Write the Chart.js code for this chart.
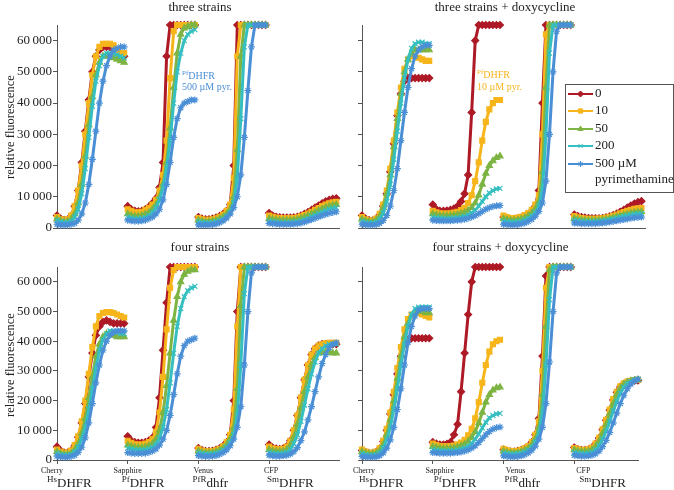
<!DOCTYPE html>
<html>
<head>
<meta charset="utf-8">
<script src="https://cdn.jsdelivr.net/npm/chart.js@4.4.1/dist/chart.umd.min.js"></script>
<style>
  body { margin: 0; background: #fff; }
  .panel { position: absolute; }
</style>
</head>
<body>
<canvas id="c1" class="panel" style="left:0;top:0" width="345" height="240"></canvas>
<canvas id="c2" class="panel" style="left:337px;top:0" width="337" height="240"></canvas>
<canvas id="c3" class="panel" style="left:0;top:240px" width="345" height="250"></canvas>
<canvas id="c4" class="panel" style="left:337px;top:240px" width="337" height="250"></canvas>
<script>
// time points inside one strain block (fraction of the block)
const timePoints = [0, 0.05, 0.1, 0.15, 0.2, 0.25, 0.3, 0.35, 0.4, 0.45, 0.5, 0.55, 0.6, 0.65, 0.7, 0.75, 0.8, 0.85, 0.9, 0.95];
const groupNames = ['Cherry', 'Sapphire', 'Venus', 'CFP'];
const geneSup = ['Hs', 'Pf', 'PfR', 'Sm'];
const geneMain = ['DHFR', 'DHFR', 'dhfr', 'DHFR'];
const concLabels = ['0', '10', '50', '200', '500 µM'];

// relative fluorescence (x1000), one row per strain block: Cherry, Sapphire, Venus, CFP
// three strains
const ts0 = [
  [4, 3, 2.5, 2.6, 3.8, 7, 12, 21, 31, 41, 50, 55, 57, 58, 58, 58, 57, 56, 55, 55],
  [7, 6, 5.5, 5.3, 5.5, 6, 6.8, 8, 9.5, 13, 21, 55, 65, 65, 65, 65, 65, 65, 65, 65],
  [3.5, 3, 2.8, 2.8, 3, 3.3, 3.8, 4.5, 5.5, 7.5, 20, 65, 65, 65, 65, 65, 65, 65, 65, 65],
  [4.8, 4, 3.6, 3.4, 3.3, 3.3, 3.3, 3.4, 3.6, 4, 4.5, 5.1, 5.8, 6.5, 7.2, 7.9, 8.5, 9, 9.3, 9.5]
];
const ts10 = [
  [3.5, 2.8, 2.5, 2.8, 4, 7, 12, 20, 30, 40, 49, 55, 58, 59, 59, 59, 58.5, 57, 56, 56],
  [6, 5.5, 5, 5, 5.2, 5.8, 6.5, 7.5, 9, 12, 17, 28, 48, 63, 65, 65, 65, 65, 65, 65],
  [3.2, 2.8, 2.6, 2.6, 2.8, 3.1, 3.6, 4.3, 5.5, 7.5, 16, 55, 65, 65, 65, 65, 65, 65, 65, 65],
  [4, 3.6, 3.3, 3.2, 3.1, 3.1, 3.1, 3.2, 3.4, 3.7, 4.1, 4.6, 5.2, 5.8, 6.4, 7, 7.5, 7.9, 8.2, 8.4]
];
const ts50 = [
  [2.8, 2.3, 2, 2.1, 2.8, 4.5, 8, 14, 23, 33, 42, 49, 53, 55, 55, 55, 54.5, 54, 53.5, 53],
  [4.5, 4, 3.8, 3.8, 4, 4.5, 5, 6, 7.5, 10, 14, 21, 32, 45, 56, 62, 64, 64.5, 65, 65],
  [2.5, 2.2, 2, 2, 2.2, 2.5, 3, 3.6, 4.5, 6, 10, 25, 55, 65, 65, 65, 65, 65, 65, 65],
  [3, 2.8, 2.6, 2.5, 2.5, 2.5, 2.5, 2.6, 2.8, 3.1, 3.5, 4, 4.5, 5, 5.6, 6.1, 6.6, 7, 7.3, 7.5]
];
const ts200 = [
  [2.5, 2, 1.8, 1.8, 2.2, 3.5, 6, 11, 19, 29, 39, 47, 52, 55, 56, 56, 56, 55.5, 55, 54.5],
  [3.5, 3.2, 3, 3, 3.1, 3.4, 4, 5, 6.5, 9, 13, 19, 28, 40, 50, 56, 60, 62, 63, 63.5],
  [2, 1.8, 1.7, 1.7, 1.8, 2, 2.4, 3, 3.8, 5, 8, 16, 35, 58, 65, 65, 65, 65, 65, 65],
  [2.2, 2, 1.9, 1.8, 1.8, 1.8, 1.8, 1.9, 2, 2.3, 2.7, 3.1, 3.6, 4.1, 4.6, 5.1, 5.6, 6, 6.3, 6.5]
];
const ts500 = [
  [1.2, 1, 1, 1, 1.2, 1.5, 2.5, 4.5, 8, 14, 22, 31, 40, 47, 52, 55, 57, 57.5, 58, 58],
  [2.5, 2.3, 2.2, 2.2, 2.3, 2.5, 3, 3.5, 4.5, 6, 9, 14, 21, 29, 35, 38.5, 40, 40.5, 41, 41],
  [1, 1, 1, 1, 1.1, 1.3, 1.7, 2.3, 3.2, 4.5, 6.5, 10, 17, 29, 44, 58, 65, 65, 65, 65],
  [1.5, 1.4, 1.3, 1.2, 1.2, 1.2, 1.2, 1.3, 1.4, 1.6, 1.9, 2.3, 2.7, 3.1, 3.6, 4, 4.4, 4.7, 5, 5.2]
];

// three strains + doxycycline
const tsd0 = [
  [4, 3, 2.5, 2.4, 2.8, 4.2, 7, 11, 18, 27, 36, 43, 47, 48, 48, 48, 48, 48, 48, 48],
  [7.5, 6, 5.5, 5.5, 5.6, 5.8, 6.2, 7, 8.5, 11, 17, 37, 60, 65, 65, 65, 65, 65, 65, 65],
  [3.5, 3, 2.8, 2.8, 3, 3.3, 3.8, 4.5, 5.5, 7, 12, 40, 65, 65, 65, 65, 65, 65, 65, 65],
  [4.3, 3.8, 3.5, 3.3, 3.2, 3.1, 3.1, 3.1, 3.2, 3.4, 3.7, 4.1, 4.6, 5.2, 5.8, 6.5, 7.2, 7.8, 8.3, 8.6]
];
const tsd10 = [
  [3.5, 2.8, 2.4, 2.4, 3, 4.5, 7.5, 12, 19, 28, 37, 45, 51, 54, 55, 55, 54.5, 54, 53.5, 53.5],
  [5.5, 5, 4.7, 4.6, 4.6, 4.7, 4.9, 5.2, 5.7, 6.5, 8, 10.5, 15, 21, 28, 34, 38, 40, 41, 41],
  [4, 3.5, 3.2, 3.2, 3.3, 3.6, 4.1, 4.8, 5.8, 7.5, 10.5, 30, 62, 65, 65, 65, 65, 65, 65, 65],
  [3.8, 3.4, 3.2, 3, 2.9, 2.9, 2.9, 3, 3.1, 3.3, 3.6, 3.9, 4.3, 4.7, 5.1, 5.5, 5.8, 6.1, 6.3, 6.4]
];
const tsd50 = [
  [2.8, 2.3, 2, 2, 2.5, 3.8, 6.5, 11, 17, 26, 35, 43, 50, 54, 56, 57, 57, 57, 57, 57],
  [4.5, 4.2, 4, 3.9, 3.9, 4, 4.1, 4.3, 4.6, 5, 5.6, 6.5, 8, 10.5, 14, 17.5, 20, 21.5, 22.5, 23],
  [3, 2.7, 2.5, 2.5, 2.6, 2.9, 3.3, 3.9, 4.8, 6.2, 8.5, 18, 45, 65, 65, 65, 65, 65, 65, 65],
  [3, 2.8, 2.6, 2.5, 2.4, 2.4, 2.4, 2.5, 2.6, 2.8, 3, 3.3, 3.6, 3.9, 4.2, 4.5, 4.8, 5, 5.1, 5.2]
];
const tsd200 = [
  [2.2, 1.8, 1.6, 1.6, 1.9, 2.8, 4.8, 8.5, 14, 22, 31, 40, 48, 54, 57.5, 59, 59.5, 59.5, 59, 59],
  [3.5, 3.3, 3.2, 3.1, 3.1, 3.1, 3.2, 3.3, 3.5, 3.8, 4.2, 4.8, 5.7, 7, 8.5, 10, 11.2, 12, 12.5, 12.7],
  [2.2, 2, 1.9, 1.9, 2, 2.2, 2.6, 3.1, 3.9, 5, 7, 12, 30, 56, 65, 65, 65, 65, 65, 65],
  [2.5, 2.3, 2.2, 2.1, 2.1, 2.1, 2.1, 2.2, 2.3, 2.5, 2.7, 2.9, 3.2, 3.5, 3.8, 4, 4.2, 4.4, 4.5, 4.6]
];
const tsd500 = [
  [1.2, 1, 1, 1, 1.1, 1.5, 2.4, 4, 7, 12, 19, 28, 37, 45, 51, 55, 57, 58, 58.5, 58.5],
  [2.5, 2.4, 2.3, 2.3, 2.3, 2.3, 2.4, 2.5, 2.6, 2.8, 3.1, 3.5, 4, 4.6, 5.3, 6, 6.5, 6.9, 7.1, 7.2],
  [1.2, 1.1, 1, 1, 1.1, 1.3, 1.6, 2.1, 2.8, 3.8, 5.3, 8, 15, 30, 50, 63, 65, 65, 65, 65],
  [1.6, 1.5, 1.4, 1.4, 1.4, 1.4, 1.4, 1.5, 1.6, 1.7, 1.9, 2.1, 2.3, 2.5, 2.7, 2.9, 3.1, 3.3, 3.4, 3.5]
];

// four strains
const fs0 = [
  [4.5, 3.2, 2.5, 2.5, 3.1, 4.8, 7.7, 12.5, 19, 28, 36, 42, 45, 46.5, 47, 46.5, 46, 46, 46, 46],
  [8, 6.5, 6, 5.8, 5.8, 6, 6.5, 7.5, 11, 21, 37, 53, 65, 65, 65, 65, 65, 65, 65, 65],
  [4, 3.3, 3, 3, 3.1, 3.4, 3.9, 4.7, 6, 8.5, 20, 50, 65, 65, 65, 65, 65, 65, 65, 65],
  [5.2, 4.2, 3.8, 3.7, 3.9, 4.6, 6.5, 10, 15, 21, 27, 32, 35.5, 37.5, 38.5, 39, 39, 39, 39, 39]
];
const fs10 = [
  [3.5, 2.8, 2.4, 2.5, 3.2, 5, 8, 13, 20, 29, 38, 45, 48.5, 49.5, 49.8, 49.8, 49.5, 49, 48.5, 48],
  [6.5, 5.8, 5.3, 5.2, 5.2, 5.5, 6, 7, 9.5, 16, 28, 44, 58, 64, 65, 65, 65, 65, 65, 65],
  [3.8, 3.2, 2.9, 2.9, 3, 3.3, 3.8, 4.6, 6, 8.5, 17, 45, 65, 65, 65, 65, 65, 65, 65, 65],
  [4.5, 3.9, 3.6, 3.6, 3.8, 4.5, 6.5, 10, 15, 21, 27, 32, 35.5, 37.5, 38.5, 39, 39.3, 39.5, 39.5, 39.5]
];
const fs50 = [
  [2.8, 2.2, 1.9, 1.9, 2.3, 3.4, 5.5, 9, 14, 21, 28, 35, 39, 41.5, 42.5, 42.5, 42, 41.5, 41.5, 41.5],
  [5, 4.6, 4.3, 4.2, 4.2, 4.4, 4.8, 5.5, 7, 10, 16, 25, 36, 47, 55, 60, 62.5, 63.5, 64, 64],
  [3, 2.6, 2.4, 2.4, 2.5, 2.8, 3.3, 4, 5.2, 7.2, 11, 24, 52, 65, 65, 65, 65, 65, 65, 65],
  [3.5, 3.1, 2.9, 2.9, 3, 3.5, 5, 7.8, 12, 17.5, 23, 28, 32, 34.5, 36, 36.5, 36.5, 36.3, 36, 36]
];
const fs200 = [
  [2.3, 1.8, 1.6, 1.6, 1.9, 2.7, 4.3, 7, 11, 17, 24, 31, 37, 40.5, 42.5, 43.5, 43.5, 43, 42.5, 42.5],
  [4, 3.7, 3.5, 3.4, 3.4, 3.5, 3.8, 4.3, 5.3, 7.3, 11, 17, 26, 36, 45, 51, 55, 57, 58, 58.5],
  [2.5, 2.2, 2, 2, 2.1, 2.3, 2.7, 3.3, 4.3, 5.8, 8.5, 15, 32, 56, 65, 65, 65, 65, 65, 65],
  [2.6, 2.3, 2.2, 2.2, 2.3, 2.6, 3.5, 5.5, 8.5, 13, 18.5, 24, 29, 33, 36, 37.5, 38.5, 39, 39, 39]
];
const fs500 = [
  [1.3, 1.1, 1, 1, 1.2, 1.6, 2.6, 4.3, 7.5, 12.5, 19, 26, 32, 37, 40, 42, 43, 43.5, 43.5, 43.5],
  [2.5, 2.3, 2.2, 2.2, 2.2, 2.3, 2.6, 3, 3.7, 5, 7, 10, 15, 22, 29, 35, 38.5, 40, 40.5, 41],
  [1.5, 1.3, 1.2, 1.2, 1.3, 1.5, 1.9, 2.5, 3.4, 4.8, 7, 11, 18, 32, 50, 63, 65, 65, 65, 65],
  [1.6, 1.4, 1.3, 1.3, 1.4, 1.6, 2, 2.8, 4.2, 6.5, 9.5, 13.5, 18, 23, 28, 32.5, 35.5, 37.8, 39, 39.5]
];

// four strains + doxycycline
const fsd0 = [
  [3.2, 2.6, 2.2, 2.2, 2.6, 3.8, 6.2, 10, 15.5, 22, 29, 35, 39, 40.5, 41, 41, 41, 41, 41, 41],
  [6, 5.5, 5.2, 5.2, 5.4, 6, 8.5, 12, 23, 36, 49, 60, 65, 65, 65, 65, 65, 65, 65, 65],
  [3.5, 3, 2.8, 2.8, 3, 3.3, 3.8, 4.6, 6, 8.5, 14, 35, 62, 65, 65, 65, 65, 65, 65, 65],
  [4.2, 3.6, 3.3, 3.3, 3.5, 4.1, 5.4, 7.4, 10.2, 13.4, 16.8, 20.2, 22.8, 24.6, 25.6, 26.2, 26.5, 26.7, 26.8, 26.8]
];
const fsd10 = [
  [3.5, 2.8, 2.4, 2.4, 2.8, 4, 6.5, 10.5, 16, 23, 31, 38, 44, 47.5, 49, 49.5, 49.5, 49, 48.5, 48],
  [5.5, 5, 4.7, 4.6, 4.6, 4.7, 4.9, 5.3, 5.9, 6.8, 8.3, 10.5, 14, 19.5, 26, 32, 36.5, 39, 40, 40.5],
  [3.8, 3.3, 3, 3, 3.1, 3.4, 3.9, 4.7, 6, 8.5, 13, 30, 58, 65, 65, 65, 65, 65, 65, 65],
  [4, 3.6, 3.4, 3.4, 3.6, 4.2, 5.5, 7.5, 10.3, 13.5, 17, 20.5, 23, 24.8, 25.8, 26.4, 26.7, 26.9, 27, 27]
];
const fsd50 = [
  [2.8, 2.3, 2, 2, 2.3, 3.2, 5.2, 8.5, 13.5, 20, 27.5, 35, 41.5, 46, 48.5, 49.5, 50, 50, 49.5, 49.5],
  [4.5, 4.2, 4, 3.9, 3.9, 4, 4.1, 4.4, 4.8, 5.4, 6.3, 7.6, 9.5, 12.5, 16, 19.5, 22, 23.5, 24.3, 24.5],
  [3, 2.6, 2.4, 2.4, 2.5, 2.8, 3.3, 4, 5.2, 7.2, 11, 22, 45, 64, 65, 65, 65, 65, 65, 65],
  [3.4, 3, 2.9, 2.9, 3, 3.5, 4.6, 6.4, 9, 12, 15.5, 19, 22, 24.2, 25.5, 26.2, 26.6, 26.8, 27, 27]
];
const fsd200 = [
  [2.2, 1.8, 1.6, 1.6, 1.8, 2.5, 4, 6.8, 11, 17, 24, 32, 39, 45, 49, 51, 51.5, 51.5, 51.5, 51.5],
  [3.5, 3.3, 3.2, 3.1, 3.1, 3.1, 3.2, 3.4, 3.7, 4.1, 4.7, 5.6, 7, 8.8, 10.8, 12.7, 14.2, 15, 15.5, 15.7],
  [2.4, 2.1, 2, 2, 2.1, 2.3, 2.7, 3.3, 4.3, 6, 9, 16, 32, 54, 65, 65, 65, 65, 65, 65],
  [2.6, 2.3, 2.2, 2.2, 2.3, 2.6, 3.4, 4.8, 7, 9.8, 13, 16.5, 19.8, 22.5, 24.5, 25.8, 26.5, 27, 27.2, 27.3]
];
const fsd500 = [
  [1.2, 1, 1, 1, 1.1, 1.5, 2.4, 4, 6.8, 11, 17, 24, 32, 39.5, 45, 48.5, 50.5, 51, 51, 51],
  [2.5, 2.4, 2.3, 2.3, 2.3, 2.3, 2.4, 2.5, 2.7, 3, 3.4, 4, 4.8, 5.9, 7.2, 8.5, 9.6, 10.4, 10.9, 11.1],
  [1.4, 1.2, 1.1, 1.1, 1.2, 1.4, 1.8, 2.4, 3.3, 4.7, 7, 11, 19, 33, 50, 63, 65, 65, 65, 65],
  [1.6, 1.4, 1.3, 1.3, 1.4, 1.6, 2.1, 3, 4.5, 6.6, 9.3, 12.5, 15.8, 19, 21.8, 24, 25.6, 26.6, 27.2, 27.5]
];

const concColors = ['#ad1a26', '#f6b51b', '#7db443', '#36bfc0', '#4a8fd6'];
const concMarkers = ['rectRot', 'rect', 'triangle', 'crossRot', 'star'];
const SERIF = '"Liberation Serif", "Times New Roman", serif';

Chart.defaults.font.family = SERIF;
Chart.defaults.color = '#222';

function buildSeries(groups) {
  const pts = [];
  groups.forEach((vals, g) => {
    vals.forEach((v, i) => pts.push({ x: g + timePoints[i], y: v }));
    pts.push({ x: g + 0.975, y: null }); // break the line between blocks
  });
  return pts;
}

function drawSup(ctx, x, y, sup, main, supSize, mainSize, rise) {
  ctx.textAlign = 'left';
  ctx.font = supSize + 'px ' + SERIF;
  ctx.fillText(sup, x, y - rise);
  const w = ctx.measureText(sup).width;
  ctx.font = mainSize + 'px ' + SERIF;
  ctx.fillText(main, x + w, y);
}

// titles, axis label, notes, strain labels and legend
const panelText = {
  id: 'panelText',
  afterDraw(chart, args, opts) {
    const ctx = chart.ctx;
    ctx.save();
    ctx.fillStyle = '#222';
    ctx.textBaseline = 'alphabetic';
    ctx.font = '13px ' + SERIF;
    ctx.textAlign = 'center';
    ctx.fillText(opts.title, opts.titleX, opts.titleY);

    if (opts.yTitle) {
      ctx.save();
      ctx.translate(11, opts.yTitleY);
      ctx.rotate(-Math.PI / 2);
      ctx.textBaseline = 'middle';
      ctx.font = '12.5px ' + SERIF;
      ctx.fillText('relative fluorescence', 0, 0);
      ctx.restore();
    }

    if (opts.note) {
      const n = opts.note;
      ctx.fillStyle = n.color;
      drawSup(ctx, n.x, n.y, 'Pf', 'DHFR', 7, 10, 4);
      ctx.font = '10px ' + SERIF;
      ctx.fillText(n.line2, n.x, n.y + 11.5);
      ctx.fillStyle = '#222';
    }

    if (opts.xLabels) {
      const xs = chart.scales.x;
      const smallOff = [-5, 0, 5, 2];
      const bigOff = [-10, -6, -6, -2];
      groupNames.forEach((name, g) => {
        const px = xs.getPixelForValue(g) + opts.shift;
        ctx.textAlign = 'center';
        ctx.font = '8px ' + SERIF;
        ctx.fillText(name, px + smallOff[g], 232.5);
        drawSup(ctx, px + bigOff[g], 246.5, geneSup[g], geneMain[g], 9, 13, 5);
      });
    }

    if (opts.legend) {
      const L = opts.legend;
      ctx.strokeStyle = '#555';
      ctx.lineWidth = 1;
      ctx.strokeRect(L.x + 0.5, L.y + 0.5, L.w, L.h);
      const rows = [10, 27, 45, 62, 80];
      chart.data.datasets.forEach((ds, k) => {
        const cy = L.y + rows[k];
        ctx.strokeStyle = ds.borderColor;
        ctx.lineWidth = 2;
        ctx.beginPath();
        ctx.moveTo(L.x + 3, cy);
        ctx.lineTo(L.x + 28, cy);
        ctx.stroke();
        ctx.fillStyle = ds.backgroundColor;
        ctx.lineWidth = 1;
        Chart.helpers.drawPoint(ctx, { pointStyle: ds.pointStyle, radius: 3, rotation: 0, borderWidth: 1 }, L.x + 15.5, cy);
        ctx.fillStyle = '#222';
        ctx.textAlign = 'left';
        ctx.textBaseline = 'middle';
        ctx.font = '13px ' + SERIF;
        ctx.fillText(concLabels[k], L.x + 30, cy);
      });
      ctx.fillText('pyrimethamine', L.x + 30, L.y + 96);
      ctx.textBaseline = 'alphabetic';
    }
    ctx.restore();
  }
};

function makePanel(id, sets, cfg) {
  const datasets = sets.map((groups, k) => ({
    label: concLabels[k],
    data: buildSeries(groups),
    borderColor: concColors[k],
    backgroundColor: concColors[k],
    pointStyle: concMarkers[k],
    pointRadius: 3.5,
    pointBorderWidth: 1.2,
    borderWidth: 3,
    spanGaps: false,
    clip: 6,
    order: 5 - k
  }));

  return new Chart(document.getElementById(id), {
    type: 'line',
    data: { datasets: datasets },
    options: {
      responsive: false,
      animation: false,
      events: [],
      layout: { padding: cfg.padding },
      plugins: {
        legend: { display: false },
        tooltip: { enabled: false },
        panelText: cfg.text
      },
      scales: {
        x: {
          type: 'linear',
          min: 0,
          max: cfg.xMax,
          ticks: { display: false, stepSize: 1 },
          grid: { drawOnChartArea: false, drawTicks: cfg.xTicks, tickLength: 4, color: '#555' },
          border: { color: '#555' },
          afterBuildTicks: s => { s.ticks = s.ticks.filter(t => Number.isInteger(t.value) && t.value < cfg.xMax); },
          afterFit: s => { s.height = 0; }
        },
        y: {
          min: 0,
          max: 65,
          ticks: {
            display: cfg.yLabels,
            stepSize: 10,
            padding: 1,
            color: '#222',
            font: { size: 13, family: SERIF },
            callback: v => (v === 0 ? '0' : v + '\u2009000')
          },
          grid: { drawOnChartArea: false, tickLength: 4, color: '#555' },
          border: { color: '#555' },
          afterBuildTicks: s => { s.ticks = s.ticks.filter(t => t.value % 10 === 0); },
          afterFit: s => { s.width = cfg.yWidth; }
        }
      }
    },
    plugins: [panelText]
  });
}

makePanel('c1', [ts0, ts10, ts50, ts200, ts500], {
  padding: { top: 25, right: 5, bottom: 12, left: 0 },
  xMax: 4, xTicks: false, yLabels: true, yWidth: 57,
  text: { title: 'three strains', titleX: 200, titleY: 11, yTitle: true, yTitleY: 127,
          note: { x: 182, y: 78.5, color: '#4a8fd6', line2: '500 µM pyr.' } }
});

makePanel('c2', [tsd0, tsd10, tsd50, tsd200, tsd500], {
  padding: { top: 25, right: 29, bottom: 12, left: 0 },
  xMax: 4, xTicks: false, yLabels: false, yWidth: 25,
  text: { title: 'three strains + doxycycline', titleX: 168, titleY: 11,
          note: { x: 140, y: 78, color: '#f6b51b', line2: '10 µM pyr.' },
          legend: { x: 228, y: 84, w: 108, h: 108 } }
});

makePanel('c3', [fs0, fs10, fs50, fs200, fs500], {
  padding: { top: 27, right: 5, bottom: 30, left: 0 },
  xMax: 4, xTicks: true, yLabels: true, yWidth: 57,
  text: { title: 'four strains', titleX: 200, titleY: 10.5, yTitle: true, yTitleY: 125,
          xLabels: true, shift: 0 }
});

makePanel('c4', [fsd0, fsd10, fsd50, fsd200, fsd500], {
  padding: { top: 27, right: 36, bottom: 30, left: 0 },
  xMax: 3.9, xTicks: true, yLabels: false, yWidth: 25,
  text: { title: 'four strains + doxycycline', titleX: 163.5, titleY: 10.5,
          xLabels: true, shift: 7 }
});
</script>
</body>
</html>
